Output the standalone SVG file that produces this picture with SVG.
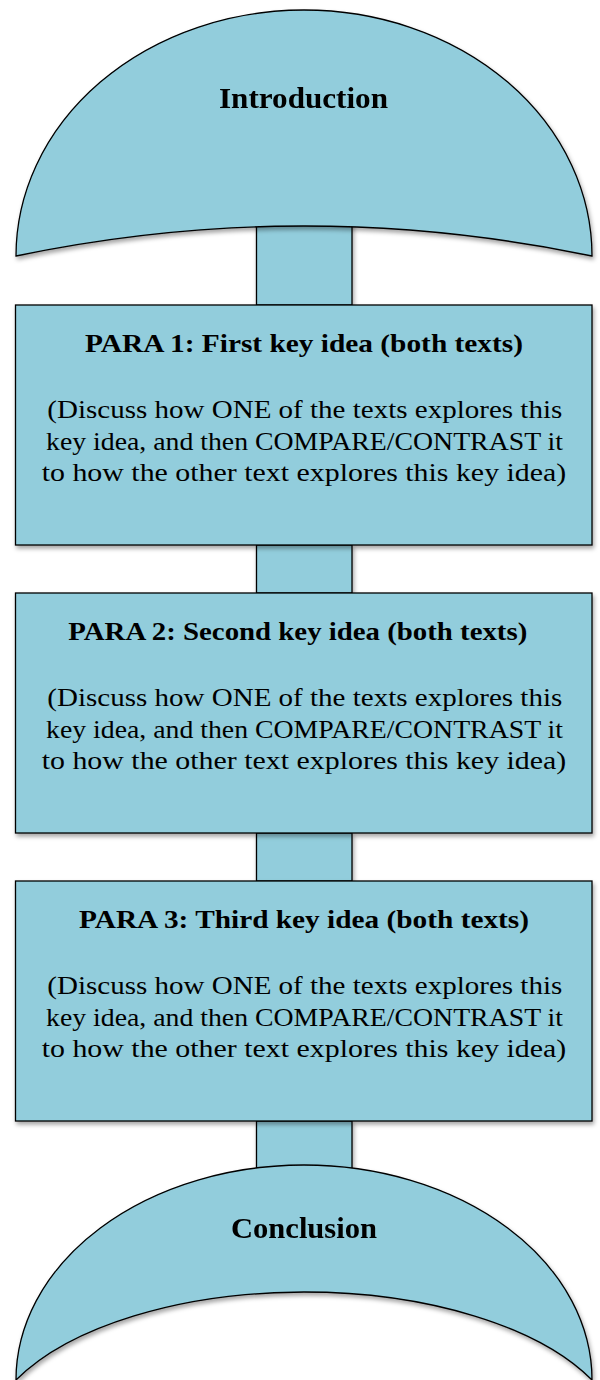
<svg xmlns="http://www.w3.org/2000/svg" width="600" height="1380" viewBox="0 0 600 1380">
<style>
.shape{fill:#92CDDC;stroke:#000;stroke-width:1.3;}
.t{font-family:"Liberation Serif","Times New Roman",serif;fill:#000;}
.h{font-weight:bold;font-size:29px;}
.ti{font-weight:bold;font-size:25.5px;}
.b{font-size:25.5px;}
</style>
<defs>
<filter id="sh" x="-10%" y="-10%" width="130%" height="130%">
<feDropShadow dx="1.5" dy="3" stdDeviation="2" flood-color="#000" flood-opacity="0.35"/>
</filter>
</defs>
<rect width="600" height="1380" fill="#fff"/>
<g id="connectors" filter="url(#sh)">
<rect class="shape" x="256.5" y="215" width="95.5" height="90"/>
<rect class="shape" x="256.5" y="545" width="95.5" height="48"/>
<rect class="shape" x="256.5" y="833" width="95.5" height="48"/>
<rect class="shape" x="256.5" y="1121" width="95.5" height="56"/>
</g>
<g id="introduction" filter="url(#sh)">
<path class="shape" d="M16,256 A288,246 0 0 1 592,256 Q304,196 16,256 Z"/>
<text class="t h" x="219" y="108.3" textLength="169" lengthAdjust="spacingAndGlyphs">Introduction</text>
</g>
<g id="para1">
<rect class="shape" x="15.5" y="305" width="576.5" height="240" filter="url(#sh)"/>
<text class="t ti" x="85" y="351.7" textLength="438" lengthAdjust="spacingAndGlyphs">PARA 1: First key idea (both texts)</text>
<text class="t b" x="47.3" y="418.3" textLength="515" lengthAdjust="spacingAndGlyphs">(Discuss how ONE of the texts explores this</text>
<text class="t b" x="46" y="449.5" textLength="517" lengthAdjust="spacingAndGlyphs">key idea, and then COMPARE/CONTRAST it</text>
<text class="t b" x="41.7" y="480.7" textLength="524.6" lengthAdjust="spacingAndGlyphs">to how the other text explores this key idea)</text>
</g>
<g id="para2">
<rect class="shape" x="15.5" y="593" width="576.5" height="240" filter="url(#sh)"/>
<text class="t ti" x="68.3" y="639.5" textLength="459" lengthAdjust="spacingAndGlyphs">PARA 2: Second key idea (both texts)</text>
<text class="t b" x="47.3" y="706.3" textLength="515" lengthAdjust="spacingAndGlyphs">(Discuss how ONE of the texts explores this</text>
<text class="t b" x="46" y="737.5" textLength="517" lengthAdjust="spacingAndGlyphs">key idea, and then COMPARE/CONTRAST it</text>
<text class="t b" x="41.7" y="768.7" textLength="524.6" lengthAdjust="spacingAndGlyphs">to how the other text explores this key idea)</text>
</g>
<g id="para3">
<rect class="shape" x="15.5" y="881" width="576.5" height="240" filter="url(#sh)"/>
<text class="t ti" x="79" y="927.7" textLength="450" lengthAdjust="spacingAndGlyphs">PARA 3: Third key idea (both texts)</text>
<text class="t b" x="47.3" y="994.3" textLength="515" lengthAdjust="spacingAndGlyphs">(Discuss how ONE of the texts explores this</text>
<text class="t b" x="46" y="1025.5" textLength="517" lengthAdjust="spacingAndGlyphs">key idea, and then COMPARE/CONTRAST it</text>
<text class="t b" x="41.7" y="1056.7" textLength="524.6" lengthAdjust="spacingAndGlyphs">to how the other text explores this key idea)</text>
</g>
<g id="conclusion" filter="url(#sh)">
<path class="shape" d="M16,1380 A288,215 0 0 1 592,1380 A320,156 0 0 0 16,1380 Z"/>
<text class="t h" x="231" y="1237.5" textLength="146" lengthAdjust="spacingAndGlyphs">Conclusion</text>
</g>
</svg>
